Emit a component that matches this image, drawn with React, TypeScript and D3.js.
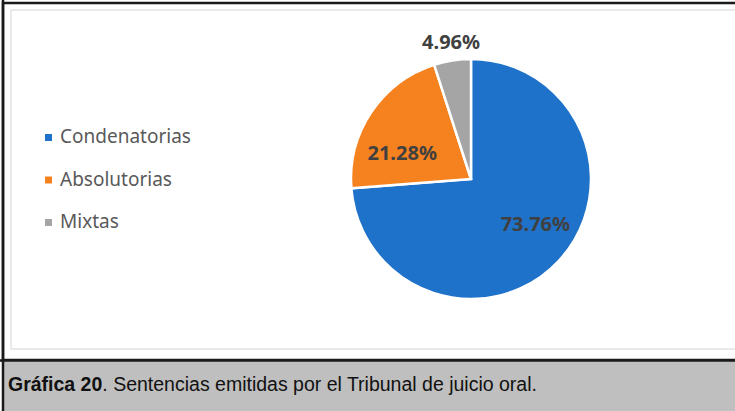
import React, { useEffect } from 'react';
import * as d3 from 'd3';

const categories = ['Condenatorias', 'Absolutorias', 'Mixtas'];
const values = [73.76, 21.28, 4.96];
const colors = ['#1f72c9', '#f5821f', '#a5a5a5'];
const caption = { bold: 'Gráfica 20', rest: '. Sentencias emitidas por el Tribunal de juicio oral.' };

const W = 735;
const H = 411;

const App: React.FC = () => {
  useEffect(() => {
    document.body.style.margin = '0';
    document.body.style.overflow = 'hidden';
  }, []);

  const cx = 471;
  const cy = 179;
  const r = 120;

  const pie = d3.pie<number>().sort(null).value(d => d);
  const arcs = pie(values);
  const arc = d3.arc<d3.PieArcDatum<number>>().innerRadius(0).outerRadius(r);
  const labelArc = d3.arc<d3.PieArcDatum<number>>().innerRadius(r * 0.64).outerRadius(r * 0.64);

  const legendY = d3.scalePoint<string>().domain(categories).range([138, 223]);

  // nudge labels the way Excel's best-fit placement does
  const nudges: [number, number][] = [[8, -6], [-5, 18], [0, 0]];
  const labelPos = (i: number): [number, number] => {
    const [x, y] = labelArc.centroid(arcs[i]);
    if (i === 2) return [cx + x - 8, 44];
    return [cx + x + nudges[i][0], cy + y + nudges[i][1]];
  };

  return (
    <svg width={W} height={H} style={{ display: 'block' }}
      fontFamily="'Noto Sans', sans-serif">
      <rect x={0} y={0} width={W} height={H} fill="#ffffff" />
      {/* outer frame */}
      <rect x={3} y={3} width={W + 20} height={357} fill="none" stroke="#1a1a1a" strokeWidth={2.5} />
      {/* inner chart-area border */}
      <rect x={11} y={10} width={W + 20} height={339} fill="none" stroke="#e3e3e3" strokeWidth={1.5} />
      {/* caption band */}
      <rect x={3} y={361} width={W} height={H - 361} fill="#bfbfbf" />
      <line x1={0} x2={W} y1={360.5} y2={360.5} stroke="#1a1a1a" strokeWidth={2.5} />
      <line x1={3} x2={3} y1={0} y2={H} stroke="#1a1a1a" strokeWidth={2.5} />
      <text x={8} y={391} fontFamily="'Liberation Sans', Arial, sans-serif" fontSize={19.5} fill="#111">
        <tspan fontWeight="bold">{caption.bold}</tspan>
        <tspan>{caption.rest}</tspan>
      </text>

      {/* pie */}
      <g transform={`translate(${cx},${cy})`}>
        {arcs.map((a, i) => (
          <path key={i} d={arc(a) || ''} fill={colors[i]} stroke="#ffffff" strokeWidth={2.5} />
        ))}
      </g>
      {arcs.map((a, i) => {
        const [lx, ly] = labelPos(i);
        return (
          <text key={i} x={lx} y={ly} textAnchor="middle" dominantBaseline="middle"
            fontSize={20} fontWeight="bold" fill="#404040">
            {values[i].toFixed(2)}%
          </text>
        );
      })}

      {/* legend */}
      {categories.map((c, i) => (
        <g key={c} transform={`translate(45,${legendY(c)})`}>
          <rect x={0} y={-4} width={7} height={7} fill={colors[i]} />
          <text x={15} y={0} dominantBaseline="middle" fontSize={19} fill="#595959">{c}</text>
        </g>
      ))}
    </svg>
  );
};

export default App;
